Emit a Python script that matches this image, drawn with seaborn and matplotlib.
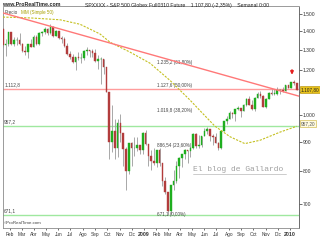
import matplotlib
matplotlib.use("Agg")
import matplotlib.pyplot as plt
import matplotlib.dates as mdates
import matplotlib.ticker as mticker
import seaborn as sns
import pandas as pd
import numpy as np

# ---------------- data ----------------
week_start = "2008-01-14"
opens = [1411,1325,1331,1396,1331,1350,1353,1331,1294,1288,1330,1316,1370,1332,1390,1398,1414,1389,1425,1375,
         1400,1361,1360,1318,1278,1262,1239,1261,1257,1260,1296,1298,1292,1283,1242,1252,1255,1213,1099,899,
         940,877,968,930,873,800,896,876,879,887,872,
         931,890,850,832,826,869,827,770,735,683,757,769,816,843,856,870,866,877,929,883,
         887,919,940,946,921,918,896,879,941,979,987,1010,1005,1026,1029,1016,1042,1068,1044,1025,
         1072,1087,1080,1036,1069,1093,1091,1091,1106,1106,1102,1127,
         1115,1145,1136]
highs = [1421,1355,1396,1396,1368,1368,1388,1335,1321,1333,1359,1381,1380,1395,1400,1422,1416,1440,1430,1406,
         1404,1374,1370,1336,1292,1278,1265,1291,1285,1300,1313,1300,1304,1303,1274,1265,1255,1215,1099,1044,
         985,984,1007,932,882,896,897,918,918,887,934,
         943,891,871,877,870,876,827,780,736,758,804,833,845,856,875,871,880,930,930,924,
         920,951,956,946,928,931,898,943,979,996,1018,1013,1027,1039,1029,1048,1074,1080,1064,1076,
         1096,1101,1085,1072,1097,1113,1112,1119,1110,1118,1130,1130,
         1145,1150,1140]
lows = [1313,1270,1322,1324,1320,1325,1325,1289,1273,1256,1312,1312,1327,1324,1375,1383,1382,1386,1371,1372,
        1358,1334,1317,1272,1254,1233,1200,1248,1235,1247,1274,1261,1264,1236,1205,1133,1179,1097,839,865,
        840,845,899,818,741,790,815,851,867,857,857,
        888,818,804,821,812,818,754,731,671.1,673,743,764,779,814,838,826,845,875,878,879,
        882,919,927,903,888,896,869,875,940,965,987,990,979,1022,992,1017,1040,1042,1020,1019,
        1071,1074,1033,1029,1069,1085,1083,1086,1087,1096,1102,1115,
        1115,1131,1105]
closes = [1325,1331,1396,1331,1350,1353,1331,1294,1288,1330,1316,1370,1332,1390,1398,1414,1389,1425,1375,1400,
          1361,1360,1318,1278,1262,1239,1261,1257,1260,1296,1298,1292,1283,1242,1252,1255,1213,1099,899,940,
          877,968,930,873,800,896,876,879,887,872,931,
          890,850,832,826,869,827,770,735,683,757,769,816,843,856,870,866,877,929,883,887,
          919,940,946,921,918,896,879,941,979,987,1010,1005,1026,1029,1016,1042,1068,1044,1025,1072,
          1087,1080,1036,1069,1093,1091,1091,1106,1106,1102,1127,1115,
          1145,1136,1107.8]

ma_dates = ["2008-01-14","2008-03-22","2008-06-05","2008-07-25","2008-09-13","2008-10-08","2008-11-27",
            "2009-01-16","2009-03-07","2009-04-26","2009-05-21","2009-06-27","2009-08-04","2009-09-10",
            "2009-10-18","2009-12-07","2010-01-18"]
ma_values = [1482,1477,1466,1440,1385,1340,1288,1232,1150,1063,1019,958,918,893,905,935,957.2]

trend_dates = ["2008-01-14","2010-01-23"]
trend_values = [1507,1080]

support_levels = [1112.8, 957.2, 671.1]
support_labels = ["1.112,8", "957,2", "671,1"]
fib_levels = [1235.2, 1127.5, 1019.8, 886.54, 671.1]
fib_labels = ["1.235,2 (61,80%)", "1.127,6 (50,00%)", "1.019,8 (38,20%)", "886,54 (23,60%)", "671,1 (0,00%)"]

ytick_vals = [700, 800, 900, 1000, 1100, 1200, 1300, 1400, 1500]
ytick_labels = ["700", "800", "900", "1.000", "", "1.200", "1.300", "1.400", "1.500"]
month_ticks = pd.date_range("2008-02-01", "2010-01-01", freq="MS")
month_labels = ["Feb","Mar","Abr","May","Jun","Jul","Ago","Sep","Oct","Nov","Dic",
                "2009","Feb","Mar","Abr","May","Jun","Jul","Ago","Sep","Oct","Nov","Dic","2010"]

# ---------------- figure ----------------
sns.set_theme(style="white")
plt.rcParams["font.family"] = ["Liberation Sans", "DejaVu Sans"]

fig = plt.figure(figsize=(3.2, 2.4), dpi=100)
ax = fig.add_axes([3/320, 12/240, 296/320, 221.5/240])

dates = pd.date_range(week_start, periods=len(closes), freq="7D")
df = pd.DataFrame({"date": dates, "open": opens, "high": highs, "low": lows, "close": closes})
x = mdates.date2num(df["date"])
up = df["close"] >= df["open"]
colors = np.where(up, "#1fae1f", "#b23c3c")

ax.vlines(x, df["low"], df["high"], color="#9a9a9a", lw=0.6, zorder=2)
bottoms = np.minimum(df["open"], df["close"])
heights = np.abs(df["close"] - df["open"])
heights = np.maximum(heights, 2)
ax.bar(x, heights, bottom=bottoms, width=4.2, color=colors, edgecolor=colors, lw=0.3, zorder=3)

# moving average
ma_df = pd.DataFrame({"date": pd.to_datetime(ma_dates), "ma": ma_values})
sns.lineplot(data=ma_df, x="date", y="ma", ax=ax, color="#c4c020", lw=0.8,
             linestyle=(0, (2, 1.2)), zorder=4)

# trend line
ax.plot(pd.to_datetime(trend_dates), trend_values, color="#ff7878", lw=1.0, zorder=4)

# horizontal levels
level_colors = ["#ff9c9c", "#9fe89f", "#9fe89f"]
for lv, lab, c in zip(support_levels, support_labels, level_colors):
    ax.axhline(lv, color=c, lw=1.0, zorder=1)
    ax.text(0.004, lv * 1.006, lab, transform=ax.get_yaxis_transform(), fontsize=3.4,
            color="#444444", ha="left", va="bottom")

for lv, lab in zip(fib_levels, fib_labels):
    ax.text(0.52, lv, lab, transform=ax.get_yaxis_transform(), fontsize=3.3,
            color="#444444", ha="left", va="center")

ax.set_yscale("log")
ax.set_ylim(637, 1546)
ax.set_xlim(mdates.date2num(pd.Timestamp("2008-01-14 12:00")),
            mdates.date2num(pd.Timestamp("2010-01-23 12:00")))

ax.yaxis.tick_right()
ax.yaxis.set_major_locator(mticker.FixedLocator(ytick_vals))
ax.yaxis.set_major_formatter(mticker.FixedFormatter(ytick_labels))
ax.yaxis.set_minor_locator(mticker.NullLocator())
ax.tick_params(axis="y", which="major", right=True, length=2, width=0.5, pad=0.8,
               labelsize=3.6, colors="#333333")

ax.set_xticks(mdates.date2num(month_ticks))
ax.set_xticklabels(month_labels)
ax.tick_params(axis="x", bottom=True, length=1.5, width=0.5, pad=1.5, labelsize=3.4, colors="#333333")
for t in ax.get_xticklabels():
    if t.get_text() in ("2009", "2010"):
        t.set_fontweight("bold")
        t.set_fontsize(3.8)
ax.set_xlabel("")
ax.set_ylabel("")

for s in ax.spines.values():
    s.set_color("#8a8a8a")
    s.set_linewidth(0.6)
ax.spines["right"].set_color("#555555")

# value boxes on the right
ax.text(1.006, closes[-1], "1.107,80", transform=ax.get_yaxis_transform(), fontsize=3.4,
        color="#222222", ha="left", va="center",
        bbox=dict(boxstyle="square,pad=0.2", fc="#e8c21a", ec="#b08a00", lw=0.4))
ax.text(1.006, ma_values[-1] * 1.012, "957,20", transform=ax.get_yaxis_transform(), fontsize=3.4,
        color="#555555", ha="left", va="center",
        bbox=dict(boxstyle="square,pad=0.2", fc="#fffbe0", ec="#c8b030", lw=0.4))

# red arrow
ax.annotate("", xy=(mdates.date2num(pd.Timestamp("2010-01-06")), 1163),
            xytext=(mdates.date2num(pd.Timestamp("2010-01-06")), 1212),
            arrowprops=dict(arrowstyle="-|>", color="#e52020", lw=1.2, mutation_scale=4))

# legend texts
ax.text(0.004, 0.985, "Precio", transform=ax.transAxes, fontsize=3.3, color="#444444",
        ha="left", va="top")
ax.text(0.06, 0.985, "MM (Simple 50)", transform=ax.transAxes, fontsize=3.3, color="#a8a000",
        ha="left", va="top")
ax.text(0.004, 0.012, "\u00a9ProRealTime.com", transform=ax.transAxes, fontsize=3.2, color="#444444",
        ha="left", va="bottom")

# watermark
ax.text(0.643, 0.25, "El blog de Gallardo", transform=ax.transAxes, fontsize=5.8,
        family=["Liberation Mono", "DejaVu Sans Mono"], color="#a0a0a0", ha="left", va="bottom")
ax.plot([0.643, 0.955], [0.243, 0.243], transform=ax.transAxes, color="#b8b8b8", lw=0.5)

# header
fig.text(2/320, 1 - 5/240, "www.ProRealTime.com", fontsize=3.8, color="#222222",
         fontweight="bold", ha="left", va="center")
fig.text(85/320, 1 - 5/240, "SPXXXX - S&P 500 Globex Full0310 Future    1.107,80 (-2,35%)    Semanal 0:00",
         fontsize=3.7, color="#222222", ha="left", va="center")

fig.savefig("out.png", dpi=100)
